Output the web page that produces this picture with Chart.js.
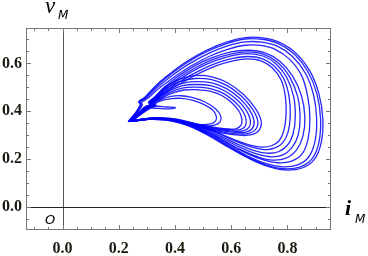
<!DOCTYPE html>
<html>
<head>
<meta charset="utf-8">
<script src="https://cdn.jsdelivr.net/npm/chart.js@4"></script>
<style>
  html, body { margin: 0; padding: 0; background: #fff; }
  canvas { display: block; }
</style>
</head>
<body>
<canvas id="chart" width="368" height="256"></canvas>
<script>
// ticks
const xMajor = [0, 0.2, 0.4, 0.6, 0.8];
const yMajor = [0, 0.2, 0.4, 0.6];
const xMinor = [-0.1, -0.05, 0.05, 0.1, 0.15, 0.25, 0.3, 0.35, 0.45, 0.5, 0.55, 0.65, 0.7, 0.75, 0.85, 0.9, 0.95];
const yMinor = [-0.05, 0.05, 0.1, 0.15, 0.25, 0.3, 0.35, 0.45, 0.5, 0.55, 0.65, 0.7];

// trajectory (i_M, v_M)
const outer1 = [[0.233,0.357],[0.258,0.392],[0.276,0.428],[0.271,0.441],[0.292,0.458],[0.330,0.505],[0.370,0.546],[0.440,0.607],[0.512,0.655],[0.583,0.689],[0.650,0.708],[0.712,0.707],[0.772,0.688],[0.830,0.643],[0.880,0.568],[0.912,0.473],[0.926,0.368],[0.920,0.268],[0.895,0.198],[0.850,0.162],[0.790,0.155],[0.728,0.171],[0.660,0.205],[0.590,0.250],[0.520,0.298],[0.450,0.338],[0.380,0.364],[0.320,0.370],[0.268,0.364],[0.233,0.357]];
const outer2 = [[0.235,0.357],[0.260,0.392],[0.278,0.427],[0.273,0.440],[0.294,0.456],[0.332,0.502],[0.372,0.543],[0.442,0.603],[0.514,0.650],[0.584,0.683],[0.650,0.702],[0.710,0.701],[0.768,0.683],[0.825,0.638],[0.873,0.565],[0.905,0.472],[0.918,0.368],[0.912,0.270],[0.888,0.202],[0.844,0.167],[0.786,0.160],[0.726,0.175],[0.658,0.209],[0.589,0.254],[0.520,0.301],[0.450,0.340],[0.381,0.365],[0.321,0.370],[0.269,0.364],[0.235,0.357]];
const outer3 = [[0.236,0.358],[0.262,0.393],[0.280,0.427],[0.276,0.439],[0.297,0.455],[0.336,0.499],[0.377,0.538],[0.447,0.596],[0.518,0.641],[0.587,0.673],[0.650,0.690],[0.708,0.689],[0.764,0.672],[0.818,0.629],[0.864,0.559],[0.893,0.468],[0.904,0.368],[0.898,0.274],[0.875,0.208],[0.834,0.175],[0.780,0.168],[0.722,0.182],[0.655,0.215],[0.587,0.259],[0.518,0.305],[0.449,0.342],[0.381,0.366],[0.322,0.370],[0.270,0.364],[0.236,0.358]];
const outer4 = [[0.238,0.358],[0.265,0.393],[0.284,0.426],[0.281,0.437],[0.302,0.453],[0.342,0.495],[0.384,0.532],[0.454,0.587],[0.523,0.630],[0.590,0.660],[0.650,0.676],[0.705,0.675],[0.758,0.658],[0.808,0.617],[0.850,0.550],[0.872,0.462],[0.880,0.368],[0.873,0.282],[0.852,0.222],[0.815,0.192],[0.766,0.185],[0.712,0.198],[0.648,0.228],[0.582,0.268],[0.515,0.311],[0.448,0.345],[0.382,0.367],[0.323,0.371],[0.271,0.365],[0.238,0.358]];
const mid1 = [[0.240,0.358],[0.268,0.392],[0.292,0.418],[0.310,0.428],[0.306,0.438],[0.326,0.458],[0.362,0.500],[0.410,0.545],[0.470,0.590],[0.535,0.625],[0.600,0.648],[0.660,0.655],[0.718,0.645],[0.772,0.610],[0.818,0.548],[0.850,0.465],[0.862,0.375],[0.855,0.295],[0.832,0.238],[0.795,0.204],[0.748,0.196],[0.698,0.208],[0.640,0.236],[0.578,0.274],[0.512,0.315],[0.446,0.347],[0.382,0.367],[0.324,0.371],[0.272,0.365],[0.240,0.358]];
const mid2 = [[0.241,0.358],[0.270,0.392],[0.294,0.418],[0.312,0.428],[0.308,0.437],[0.329,0.457],[0.366,0.497],[0.414,0.540],[0.474,0.583],[0.538,0.618],[0.602,0.640],[0.660,0.648],[0.716,0.638],[0.766,0.604],[0.808,0.544],[0.836,0.463],[0.845,0.375],[0.838,0.300],[0.816,0.248],[0.782,0.217],[0.738,0.210],[0.690,0.222],[0.634,0.248],[0.574,0.283],[0.510,0.320],[0.445,0.350],[0.382,0.368],[0.325,0.371],[0.273,0.365],[0.241,0.358]];
const mid3 = [[0.242,0.358],[0.272,0.392],[0.296,0.418],[0.314,0.428],[0.311,0.437],[0.332,0.456],[0.370,0.494],[0.418,0.535],[0.478,0.577],[0.541,0.611],[0.604,0.633],[0.660,0.641],[0.713,0.631],[0.760,0.598],[0.798,0.540],[0.822,0.462],[0.828,0.378],[0.820,0.305],[0.800,0.258],[0.768,0.231],[0.728,0.225],[0.682,0.236],[0.628,0.260],[0.570,0.292],[0.508,0.326],[0.444,0.353],[0.382,0.369],[0.326,0.371],[0.274,0.365],[0.242,0.358]];
const mid4 = [[0.243,0.358],[0.274,0.392],[0.298,0.418],[0.316,0.428],[0.313,0.437],[0.335,0.455],[0.374,0.490],[0.423,0.528],[0.482,0.567],[0.545,0.600],[0.606,0.621],[0.660,0.629],[0.710,0.620],[0.753,0.589],[0.788,0.534],[0.806,0.460],[0.810,0.380],[0.802,0.312],[0.783,0.268],[0.754,0.246],[0.718,0.240],[0.674,0.250],[0.622,0.272],[0.566,0.301],[0.506,0.332],[0.443,0.356],[0.382,0.370],[0.327,0.371],[0.275,0.365],[0.243,0.358]];
const mid5 = [[0.244,0.358],[0.276,0.392],[0.300,0.418],[0.318,0.428],[0.315,0.437],[0.338,0.454],[0.378,0.487],[0.428,0.522],[0.486,0.559],[0.548,0.591],[0.607,0.611],[0.658,0.619],[0.706,0.611],[0.746,0.582],[0.778,0.530],[0.793,0.458],[0.795,0.382],[0.787,0.318],[0.770,0.276],[0.743,0.256],[0.709,0.250],[0.667,0.259],[0.617,0.279],[0.562,0.306],[0.504,0.336],[0.442,0.358],[0.382,0.370],[0.328,0.371],[0.276,0.365],[0.244,0.358]];
const inner1 = [[0.240,0.358],[0.268,0.390],[0.296,0.414],[0.316,0.427],[0.314,0.438],[0.334,0.466],[0.368,0.503],[0.415,0.533],[0.468,0.549],[0.528,0.545],[0.588,0.518],[0.642,0.472],[0.684,0.415],[0.706,0.362],[0.700,0.322],[0.672,0.302],[0.628,0.300],[0.572,0.309],[0.505,0.326],[0.436,0.346],[0.368,0.363],[0.300,0.366],[0.240,0.358]];
const inner2 = [[0.241,0.358],[0.270,0.390],[0.298,0.414],[0.318,0.426],[0.316,0.437],[0.338,0.463],[0.372,0.497],[0.419,0.525],[0.470,0.537],[0.527,0.533],[0.584,0.508],[0.635,0.465],[0.674,0.412],[0.694,0.362],[0.688,0.326],[0.662,0.308],[0.621,0.306],[0.568,0.314],[0.503,0.330],[0.435,0.349],[0.368,0.364],[0.301,0.366],[0.241,0.358]];
const inner3 = [[0.242,0.358],[0.272,0.390],[0.300,0.414],[0.320,0.426],[0.318,0.436],[0.341,0.460],[0.376,0.491],[0.423,0.516],[0.473,0.524],[0.527,0.520],[0.580,0.497],[0.628,0.457],[0.664,0.408],[0.681,0.363],[0.676,0.330],[0.652,0.313],[0.614,0.312],[0.564,0.319],[0.501,0.334],[0.434,0.352],[0.368,0.365],[0.302,0.366],[0.242,0.358]];
const inner4 = [[0.243,0.358],[0.274,0.390],[0.302,0.414],[0.322,0.426],[0.320,0.436],[0.344,0.457],[0.380,0.485],[0.427,0.507],[0.476,0.512],[0.527,0.507],[0.576,0.486],[0.620,0.449],[0.653,0.405],[0.668,0.364],[0.664,0.334],[0.642,0.318],[0.607,0.317],[0.560,0.323],[0.499,0.337],[0.433,0.354],[0.368,0.366],[0.303,0.366],[0.243,0.358]];
const inner5 = [[0.244,0.358],[0.276,0.390],[0.304,0.414],[0.324,0.426],[0.322,0.435],[0.347,0.455],[0.384,0.480],[0.430,0.498],[0.478,0.501],[0.526,0.495],[0.572,0.475],[0.612,0.441],[0.641,0.401],[0.653,0.365],[0.650,0.338],[0.631,0.323],[0.600,0.322],[0.556,0.327],[0.497,0.340],[0.432,0.356],[0.368,0.366],[0.304,0.366],[0.244,0.358]];
const inner6 = [[0.245,0.358],[0.278,0.390],[0.306,0.414],[0.326,0.426],[0.324,0.435],[0.350,0.453],[0.388,0.475],[0.433,0.489],[0.480,0.490],[0.525,0.484],[0.568,0.465],[0.604,0.434],[0.629,0.398],[0.638,0.366],[0.635,0.342],[0.619,0.328],[0.592,0.326],[0.552,0.331],[0.495,0.343],[0.431,0.358],[0.368,0.367],[0.305,0.366],[0.245,0.358]];
const core1 = [[0.246,0.358],[0.280,0.390],[0.310,0.413],[0.330,0.425],[0.328,0.434],[0.352,0.450],[0.385,0.462],[0.420,0.465],[0.460,0.458],[0.505,0.440],[0.545,0.410],[0.563,0.380],[0.560,0.355],[0.540,0.342],[0.505,0.338],[0.460,0.344],[0.410,0.357],[0.360,0.366],[0.305,0.366],[0.246,0.358]];
const core2 = [[0.247,0.358],[0.282,0.390],[0.312,0.413],[0.332,0.425],[0.330,0.433],[0.355,0.446],[0.388,0.453],[0.422,0.454],[0.460,0.447],[0.500,0.430],[0.534,0.405],[0.547,0.380],[0.544,0.359],[0.526,0.347],[0.497,0.344],[0.456,0.349],[0.408,0.359],[0.360,0.367],[0.306,0.366],[0.247,0.358]];
const tongue = [[0.300,0.420],[0.330,0.422],[0.370,0.418],[0.402,0.415],[0.380,0.410],[0.340,0.412],[0.305,0.415]];

const loops = [outer1, outer2, outer3, outer4, mid1, mid2, mid3, mid4, mid5,
  inner1, inner2, inner3, inner4, inner5, inner6, core1, core2, tongue];

const labelFont = { family: '"Liberation Serif", "DejaVu Serif", serif', size: 16, weight: 'bold' };
const labelColor = '#1e1a10';

// frame, inward ticks, axis lines and the axis names
const framePlugin = {
  id: 'frame',
  afterDatasetsDraw(chart) {
    const { ctx, chartArea: a, scales: { x, y } } = chart;
    ctx.save();
    ctx.lineWidth = 1;
    ctx.strokeStyle = '#555';
    ctx.beginPath();
    ctx.moveTo(Math.round(x.getPixelForValue(0)) + 0.5, a.top);
    ctx.lineTo(Math.round(x.getPixelForValue(0)) + 0.5, a.bottom);
    ctx.stroke();
    ctx.strokeStyle = '#222';
    ctx.beginPath();
    ctx.moveTo(a.left, Math.round(y.getPixelForValue(0)) + 0.5);
    ctx.lineTo(a.right, Math.round(y.getPixelForValue(0)) + 0.5);
    ctx.stroke();

    ctx.strokeStyle = '#777';
    ctx.strokeRect(a.left + 0.5, a.top + 0.5, a.right - a.left - 1, a.bottom - a.top - 1);
    const tick = (vals, len) => {
      vals.forEach(v => {
        const px = Math.round(x.getPixelForValue(v)) + 0.5;
        ctx.beginPath();
        ctx.moveTo(px, a.bottom); ctx.lineTo(px, a.bottom - len);
        ctx.moveTo(px, a.top); ctx.lineTo(px, a.top + len);
        ctx.stroke();
      });
    };
    const tickY = (vals, len) => {
      vals.forEach(v => {
        const py = Math.round(y.getPixelForValue(v)) + 0.5;
        ctx.beginPath();
        ctx.moveTo(a.left, py); ctx.lineTo(a.left + len, py);
        ctx.moveTo(a.right, py); ctx.lineTo(a.right - len, py);
        ctx.stroke();
      });
    };
    tick(xMajor, 5); tick(xMinor, 3);
    tickY(yMajor, 5); tickY(yMinor, 3);

    ctx.fillStyle = '#000';
    ctx.textBaseline = 'alphabetic';
    ctx.font = 'italic 23px "Liberation Serif", serif';
    ctx.fillText('v', 45, 13);
    ctx.font = 'italic bold 22px "Liberation Serif", serif';
    ctx.fillText('i', 345, 215);
    ctx.font = 'italic 12px "DejaVu Sans", sans-serif';
    ctx.fillText('M', 58, 19);
    ctx.fillText('M', 355, 223);
    ctx.font = 'italic 13px "DejaVu Sans", sans-serif';
    ctx.fillText('O', 45, 224);
    ctx.restore();
  }
};

new Chart(document.getElementById('chart'), {
  type: 'scatter',
  data: {
    datasets: loops.map(loop => ({
      data: loop.map(p => ({ x: p[0], y: p[1] })),
      showLine: true,
      tension: 0.4,
      pointRadius: 0,
      borderWidth: 1.3,
      borderColor: 'rgba(0, 0, 255, 0.85)'
    }))
  },
  options: {
    responsive: false,
    animation: false,
    layout: { padding: { top: 28, right: 37, left: 0, bottom: 0 } },
    plugins: { legend: { display: false }, tooltip: { enabled: false } },
    scales: {
      x: {
        type: 'linear', min: -0.13, max: 0.955,
        afterFit: s => { s.height = 26; },
        grid: { display: false, drawTicks: false }, border: { display: false },
        ticks: { stepSize: 0.2, includeBounds: false, autoSkip: false, maxRotation: 0, padding: 9,
          color: labelColor, font: labelFont, callback: v => v.toFixed(1) }
      },
      y: {
        type: 'linear', min: -0.096, max: 0.748,
        afterFit: s => { s.width = 26; },
        grid: { display: false, drawTicks: false }, border: { display: false },
        ticks: { stepSize: 0.2, includeBounds: false, autoSkip: false, padding: 4,
          color: labelColor, font: labelFont, callback: v => v.toFixed(1) }
      }
    }
  },
  plugins: [framePlugin]
});
</script>
</body>
</html>
